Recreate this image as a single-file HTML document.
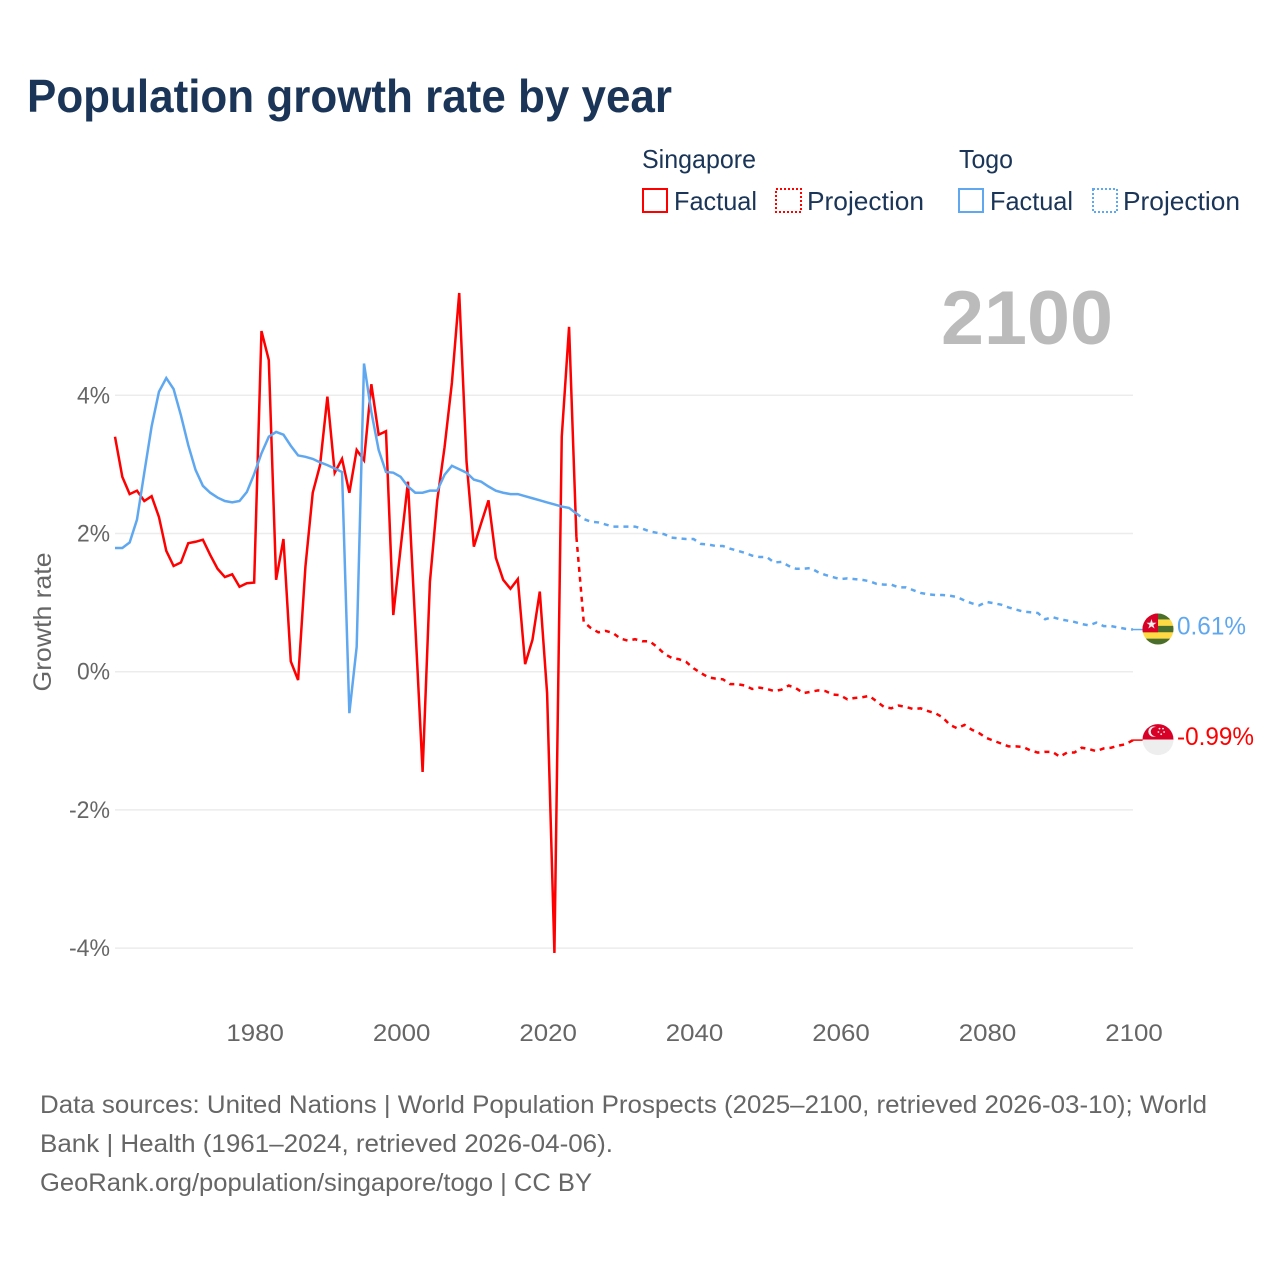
<!DOCTYPE html>
<html lang="en">
<head>
<meta charset="utf-8">
<title>Population growth rate by year</title>
<style>
html,body{margin:0;padding:0;background:#fff;}
svg{display:block;font-family:"Liberation Sans",sans-serif;}
</style>
</head>
<body>
<svg id="chart" xmlns="http://www.w3.org/2000/svg" width="1280" height="1280" viewBox="0 0 1280 1280">
  <rect x="0" y="0" width="1280" height="1280" fill="#fff"/>
  <text x="27" y="112" font-size="46" font-weight="700" fill="#1a3557" textLength="645" lengthAdjust="spacingAndGlyphs">Population growth rate by year</text>

  <g font-size="26" fill="#1a3557">
    <text x="642" y="168" textLength="114" lengthAdjust="spacingAndGlyphs">Singapore</text>
    <rect x="643" y="189" width="24" height="23" fill="none" stroke="#ff0000" stroke-width="2"/>
    <text x="674" y="210" textLength="83" lengthAdjust="spacingAndGlyphs">Factual</text>
    <rect x="776" y="189" width="25" height="23" fill="none" stroke="#ff0000" stroke-width="2" stroke-dasharray="2,2"/>
    <text x="807" y="210" textLength="117" lengthAdjust="spacingAndGlyphs">Projection</text>
    <text x="959" y="168" textLength="54" lengthAdjust="spacingAndGlyphs">Togo</text>
    <rect x="959" y="189" width="24" height="23" fill="none" stroke="#5fa8f0" stroke-width="2"/>
    <text x="990" y="210" textLength="83" lengthAdjust="spacingAndGlyphs">Factual</text>
    <rect x="1093" y="189" width="24" height="23" fill="none" stroke="#5fa8f0" stroke-width="2" stroke-dasharray="2,2"/>
    <text x="1123" y="210" textLength="117" lengthAdjust="spacingAndGlyphs">Projection</text>
  </g>

  <text x="941" y="344" font-size="76" font-weight="700" fill="#bbbbbb" textLength="172" lengthAdjust="spacingAndGlyphs">2100</text>

  <g id="grid"></g>
  <g id="yaxis" font-size="24" fill="#666666"></g>
  <g id="xaxis" font-size="24" fill="#666666"></g>
  <text transform="translate(51,622) rotate(-90)" text-anchor="middle" font-size="25" fill="#666666" textLength="139" lengthAdjust="spacingAndGlyphs">Growth rate</text>
  <g id="series"></g>

  <g id="end-markers">
    <defs>
      <clipPath id="clip-togo"><circle cx="0" cy="0" r="15.5"/></clipPath>
      <clipPath id="clip-sg"><circle cx="0" cy="0" r="15.5"/></clipPath>
    </defs>
    <g id="flag-togo" clip-path="url(#clip-togo)">
      <rect x="-16" y="-16" width="32" height="32" fill="#ffda44"/>
      <rect x="-16" y="-16" width="32" height="6.4" fill="#496e2d"/>
      <rect x="-16" y="-3.2" width="32" height="6.4" fill="#496e2d"/>
      <rect x="-16" y="9.6" width="32" height="6.4" fill="#496e2d"/>
      <rect x="-16" y="-16" width="16" height="19.2" fill="#d80027"/>
      <text x="-6.5" y="-0.5" font-size="13" text-anchor="middle" fill="#eeeeee">★</text>
    </g>
    <g id="flag-singapore" clip-path="url(#clip-sg)">
      <rect x="-16" y="-16" width="32" height="16" fill="#d80027"/>
      <rect x="-16" y="0" width="32" height="16" fill="#eeeeee"/>
      <circle cx="-4.5" cy="-8" r="5.2" fill="#eeeeee"/>
      <circle cx="-2.6" cy="-8" r="4.6" fill="#d80027"/>
      <circle cx="1.5" cy="-11" r="0.9" fill="#eeeeee"/>
      <circle cx="5" cy="-11" r="0.9" fill="#eeeeee"/>
      <circle cx="0.4" cy="-7.6" r="0.9" fill="#eeeeee"/>
      <circle cx="6.1" cy="-7.6" r="0.9" fill="#eeeeee"/>
      <circle cx="3.2" cy="-5.4" r="0.9" fill="#eeeeee"/>
    </g>
    <text id="label-togo" x="1177" font-size="25" fill="#5fa8f0" textLength="69" lengthAdjust="spacingAndGlyphs"></text>
    <text id="label-singapore" x="1177" font-size="25" fill="#ff0000" textLength="77" lengthAdjust="spacingAndGlyphs"></text>
  </g>

  <g font-size="25" fill="#666666">
    <text x="40" y="1113" textLength="1167" lengthAdjust="spacingAndGlyphs">Data sources: United Nations | World Population Prospects (2025–2100, retrieved 2026-03-10); World</text>
    <text x="40" y="1152" textLength="573" lengthAdjust="spacingAndGlyphs">Bank | Health (1961–2024, retrieved 2026-04-06).</text>
    <text x="40" y="1191" textLength="552" lengthAdjust="spacingAndGlyphs">GeoRank.org/population/singapore/togo | CC BY</text>
  </g>
</svg>
<script>
const factualStartYear = 1961;
const projectionStartYear = 2025;
const lastYear = 2100;
const yTickValues = [4, 2, 0, -2, -4];
const xTickValues = [1980, 2000, 2020, 2040, 2060, 2080, 2100];
const singaporeEndLabel = "-0.99%";
const togoEndLabel = "0.61%";

const singaporeFactual = [3.40,2.82,2.57,2.62,2.47,2.54,2.24,1.75,1.53,1.58,1.86,1.88,1.91,1.69,1.49,1.37,1.41,1.23,1.28,1.29,
4.93,4.51,1.33,1.92,0.15,-0.12,1.52,2.59,2.99,3.98,2.88,3.08,2.59,3.21,3.06,4.16,3.43,3.48,0.82,1.79,
2.75,0.68,-1.45,1.30,2.48,3.25,4.18,5.48,3.04,1.81,2.15,2.48,1.65,1.33,1.20,1.34,0.11,0.46,1.16,-0.31,
-4.07,3.40,4.99,1.95];

const togoFactual = [1.79,1.79,1.87,2.20,2.88,3.55,4.05,4.25,4.09,3.71,3.28,2.92,2.69,2.59,2.52,2.47,2.45,2.47,2.60,2.86,
3.16,3.40,3.47,3.43,3.27,3.13,3.11,3.08,3.03,2.99,2.94,2.89,-0.60,0.36,4.46,3.76,3.21,2.89,2.88,2.82,
2.68,2.59,2.59,2.62,2.62,2.85,2.98,2.93,2.88,2.78,2.75,2.68,2.62,2.59,2.57,2.57,2.54,2.51,2.48,2.45,
2.42,2.39,2.37,2.29];

const singaporeProjection = [0.72,0.63,0.57,0.59,0.56,0.48,0.45,0.47,0.44,0.44,0.36,0.26,0.20,0.18,0.14,0.05,-0.02,-0.08,-0.10,-0.11,
-0.18,-0.18,-0.20,-0.25,-0.23,-0.25,-0.28,-0.26,-0.20,-0.24,-0.31,-0.29,-0.27,-0.28,-0.33,-0.34,-0.40,-0.38,-0.37,-0.35,
-0.43,-0.51,-0.53,-0.49,-0.51,-0.54,-0.53,-0.57,-0.60,-0.66,-0.77,-0.82,-0.77,-0.84,-0.89,-0.96,-1.00,-1.04,-1.08,-1.08,
-1.09,-1.14,-1.17,-1.16,-1.16,-1.23,-1.17,-1.17,-1.10,-1.12,-1.15,-1.11,-1.10,-1.07,-1.05,-0.99];

const togoProjection = [2.21,2.17,2.16,2.13,2.10,2.10,2.10,2.10,2.07,2.03,2.01,1.99,1.94,1.93,1.92,1.92,1.85,1.84,1.82,1.82,
1.78,1.75,1.72,1.68,1.66,1.66,1.58,1.59,1.53,1.49,1.49,1.50,1.44,1.40,1.37,1.34,1.35,1.34,1.33,1.31,
1.27,1.26,1.26,1.22,1.22,1.18,1.14,1.12,1.11,1.11,1.10,1.08,1.03,0.99,0.96,1.01,0.99,0.97,0.93,0.90,
0.87,0.86,0.85,0.76,0.79,0.76,0.74,0.72,0.69,0.67,0.71,0.66,0.66,0.64,0.62,0.61];

const NS = "http://www.w3.org/2000/svg";
const RED = "#ff0000";
const BLUE = "#5fa8f0";
function xScale(year) { return 115 + (year - 1961) * (1018 / 139); }
function yScale(v) { return 671.7 - v * 69.1; }
function mk(tag, parent) {
  const el = document.createElementNS(NS, tag);
  parent.appendChild(el);
  return el;
}

const grid = document.getElementById("grid");
const yaxis = document.getElementById("yaxis");
yTickValues.forEach(function (v) {
  const line = mk("line", grid);
  
  
  line.setAttribute("x1", 115);
  line.setAttribute("x2", 1133);
  line.setAttribute("y1", yScale(v));
  line.setAttribute("y2", yScale(v));
  line.setAttribute("stroke", "#ececec");
  line.setAttribute("stroke-width", "1.5");
  const label = mk("text", yaxis);
  
  
  label.setAttribute("x", 110);
  label.setAttribute("y", yScale(v) + 8);
  label.setAttribute("text-anchor", "end");
  label.setAttribute("textLength", v < 0 ? 41 : 33);
  label.setAttribute("lengthAdjust", "spacingAndGlyphs");
  label.textContent = v + "%";
});

const xaxis = document.getElementById("xaxis");
xTickValues.forEach(function (year) {
  const label = mk("text", xaxis);
  
  
  label.setAttribute("x", xScale(year) + 1);
  label.setAttribute("y", 1041);
  label.setAttribute("text-anchor", "middle");
  label.setAttribute("textLength", 57.5);
  label.setAttribute("lengthAdjust", "spacingAndGlyphs");
  label.textContent = String(year);
});

function pathFrom(values, startYear, prefix) {
  let d = prefix;
  values.forEach(function (v, i) {
    const cmd = (d === "" && i === 0) ? "M" : "L";
    d += cmd + xScale(startYear + i).toFixed(2) + " " + yScale(v).toFixed(2);
  });
  return d;
}
function lastPoint(values, startYear) {
  const i = values.length - 1;
  return "M" + xScale(startYear + i).toFixed(2) + " " + yScale(values[i]).toFixed(2);
}

const seriesGroup = document.getElementById("series");
function drawLine(d, color, dashed, name) {
  const p = mk("path", seriesGroup);
  
  
  p.setAttribute("d", d);
  p.setAttribute("fill", "none");
  p.setAttribute("stroke", color);
  p.setAttribute("stroke-width", "2.5");
  p.setAttribute("stroke-linejoin", "miter");
  if (dashed) { p.setAttribute("stroke-dasharray", "5,5"); }
}
drawLine(pathFrom(singaporeFactual, factualStartYear, ""), RED, false, "singapore-factual-line");
drawLine(pathFrom(singaporeProjection, projectionStartYear, lastPoint(singaporeFactual, factualStartYear)), RED, true, "singapore-projection-line");
drawLine(pathFrom(togoFactual, factualStartYear, ""), BLUE, false, "togo-factual-line");
drawLine(pathFrom(togoProjection, projectionStartYear, lastPoint(togoFactual, factualStartYear)), BLUE, true, "togo-projection-line");

function endMarker(values, color, flagId, labelId, text, name) {
  const y = yScale(values[values.length - 1]);
  const leader = mk("line", seriesGroup);
  
  
  leader.setAttribute("x1", xScale(lastYear));
  leader.setAttribute("x2", 1143);
  leader.setAttribute("y1", y);
  leader.setAttribute("y2", y);
  leader.setAttribute("stroke", color);
  leader.setAttribute("stroke-width", "1.5");
  document.getElementById(flagId).setAttribute("transform", "translate(1158," + (y - 0.5) + ")");
  const label = document.getElementById(labelId);
  label.setAttribute("y", y + 5);
  label.textContent = text;
}
endMarker(togoProjection, BLUE, "flag-togo", "label-togo", togoEndLabel, "togo-leader-line");
endMarker(singaporeProjection, RED, "flag-singapore", "label-singapore", singaporeEndLabel, "singapore-leader-line");
</script>
</body>
</html>
